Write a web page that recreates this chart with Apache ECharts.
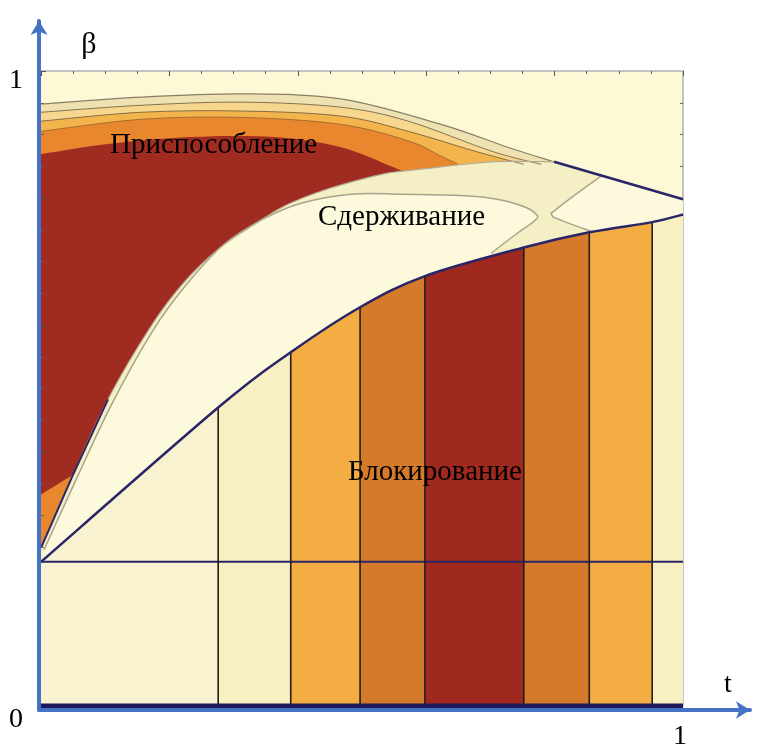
<!DOCTYPE html>
<html><head><meta charset="utf-8">
<script src="https://cdn.jsdelivr.net/npm/echarts@6/dist/echarts.min.js"></script>
<style>html,body{margin:0;padding:0;background:#fff}#c{width:759px;height:745px}</style>
</head><body><div id="c"></div>
<script>
// ===== data (t, β in [0,1]) =====
// «Блокирование» strips: edges along t, colours, and top boundary β at each edge
const stripEdges  = [0, 0.276, 0.389, 0.497, 0.598, 0.752, 0.854, 0.952, 1];
const stripColors = ['#f8f2d0','#f8f0c2','#f4ad42','#d47a2a','#a0291f','#d47a2a','#f4ad42','#f8f0c2'];
const blockTopB   = [0.227, 0.470, 0.557, 0.628, 0.677, 0.722, 0.746, 0.762, 0.774];
const baseLevelB  = 0.227;

// upper boundary of «Сдерживание»
const upperT = [0, 0.0498, 0.1044, 0.1713, 0.2227, 0.2757, 0.3271, 0.3785, 0.4315, 0.4829, 0.5343, 0.5607, 0.6231, 0.7009, 0.7991];
const upperB = [0.249, 0.364, 0.483, 0.598, 0.667, 0.719, 0.755, 0.787, 0.809, 0.825, 0.838, 0.842, 0.849, 0.857, 0.857];
const capT = [0.7991, 1];
const capB = [0.857, 0.798];

// inner blobs of «Сдерживание»
const blobLT = [0.7009, 0.7399, 0.7679, 0.7726, 0.7508, 0.7009, 0.6386, 0.5607, 0.4829, 0.4050, 0.3458, 0.2835, 0.2243, 0.1745, 0.1106, 0.0561, 0.0047];
const blobLB = [0.7129, 0.7429, 0.7634, 0.7729, 0.7871, 0.7997, 0.8044, 0.8060, 0.8060, 0.7918, 0.7666, 0.7256, 0.6609, 0.5915, 0.4763, 0.3596, 0.2461];
const blobRT = [0.7975, 0.8224, 0.8567];
const blobRB = [0.770, 0.760, 0.7476];
const blobRTopT = [0.7944, 0.8333, 0.8723];
const blobRTopB = [0.776, 0.806, 0.8344];

// «Приспособление» contour bands (outer to inner)
const c1T  = [0, 0.156, 0.312, 0.467, 0.623, 0.727, 0.799];
const c1B  = [0.948, 0.959, 0.964, 0.956, 0.916, 0.880, 0.857];
const c1bT = [0, 0.156, 0.312, 0.467, 0.572, 0.701, 0.779];
const c1bB = [0.935, 0.946, 0.951, 0.943, 0.921, 0.874, 0.853];
const c2T  = [0, 0.156, 0.312, 0.467, 0.572, 0.675, 0.752];
const c2B  = [0.921, 0.935, 0.937, 0.929, 0.905, 0.874, 0.853];
const c3T  = [0, 0.156, 0.312, 0.467, 0.572, 0.623, 0.650];
const c3B  = [0.905, 0.924, 0.927, 0.916, 0.890, 0.866, 0.853];
const c4T  = [0, 0.1044, 0.2336, 0.3629, 0.4673, 0.5452, 0.5717];
const c4B  = [0.869, 0.885, 0.896, 0.896, 0.880, 0.850, 0.838];
const redFootT = [0.0498, 0];
const redFootB = [0.364, 0.333];

// ===== helpers (pixel space) =====
function pts(api, T, B){ return T.map((t,i)=>api.coord([t, B[i]])); }
function crSegs(p){
  const s=[];
  for(let i=0;i<p.length-1;i++){
    const p0=p[i-1]||p[i], p1=p[i], p2=p[i+1], p3=p[i+2]||p[i+1];
    s.push([p1,[p1[0]+(p2[0]-p0[0])/6, p1[1]+(p2[1]-p0[1])/6],[p2[0]-(p3[0]-p1[0])/6, p2[1]-(p3[1]-p1[1])/6],p2]);
  }
  return s;
}
const f = a => a[0].toFixed(2)+','+a[1].toFixed(2);
function pathOf(edges, close){
  let d='';
  edges.forEach((e,k)=>{
    const p=e.p;
    d += (k===0?'M':' L')+f(p[0]);
    if(e.smooth){ crSegs(p).forEach(s=>{ d+=' C'+f(s[1])+' '+f(s[2])+' '+f(s[3]); }); }
    else { for(let i=1;i<p.length;i++) d+=' L'+f(p[i]); }
  });
  if(close) d+=' Z';
  return d;
}
function fillEl(d, color, z){ return {type:'path', z2:z, shape:{pathData:d}, style:{fill:color, stroke:null}}; }
function lineEl(d, color, w, z){ return {type:'path', z2:z, shape:{pathData:d}, style:{fill:null, stroke:color, lineWidth:w, lineJoin:'round'}}; }

function bandFill(api, T, B, color, z){
  const top = pts(api, T, B);
  const last = T[T.length-1];
  return fillEl(pathOf([{p:top, smooth:true},{p:[api.coord([last,0.3]), api.coord([0.05,0.3]), api.coord([0,0.22])]}], true), color, z);
}

function renderFills(params, api){
  const els=[];
  let z=0;
  els.push(bandFill(api, c1T, c1B, '#efe2b2', z++));
  els.push(bandFill(api, c1bT, c1bB, '#f7d68e', z++));
  els.push(bandFill(api, c2T, c2B, '#f4b44c', z++));
  els.push(bandFill(api, c3T, c3B, '#e8872e', z++));
  const rTop = pts(api, c4T, c4B);
  els.push(fillEl(pathOf([{p:rTop, smooth:true},{p:[api.coord([c4T[c4T.length-1],0.5])].concat(pts(api, redFootT, redFootB))}], true), '#a02b20', z++));
  const low = pts(api, stripEdges, blockTopB);
  const up = pts(api, upperT, upperB).reverse();
  const cap = pts(api, capT, capB).reverse();
  els.push(fillEl(pathOf([{p:low, smooth:true},{p:cap},{p:up, smooth:true}], true), '#f5efc6', z++));
  const bl = pts(api, blobLT, blobLB);
  els.push(fillEl(pathOf([{p:bl, smooth:true},{p:[api.coord([0,0.15]), api.coord([0.7009,0.15])]}], true), '#fcf9dd', z++));
  const brTop = pts(api, blobRTopT, blobRTopB);
  const brBot = pts(api, blobRT, blobRB).reverse();
  els.push(fillEl(pathOf([{p:brTop, smooth:true},{p:[api.coord([1,0.798]), api.coord([1,0.6]), api.coord([0.8567,0.6])]},{p:brBot, smooth:true}], true), '#fcf9dd', z++));
  // upper-region lines
  const band = 'rgba(95,80,55,0.75)';
  els.push(lineEl(pathOf([{p:pts(api,c1T,c1B),smooth:true}]), 'rgba(110,100,80,0.8)', 1.2, z++));
  els.push(lineEl(pathOf([{p:pts(api,c1bT,c1bB),smooth:true}]), band, 1, z++));
  els.push(lineEl(pathOf([{p:pts(api,c2T,c2B),smooth:true}]), band, 1, z++));
  els.push(lineEl(pathOf([{p:pts(api,c3T,c3B),smooth:true}]), 'rgba(95,70,40,0.5)', 1, z++));
  els.push(lineEl(pathOf([{p:pts(api,blobLT,blobLB),smooth:true}]), '#a9a38c', 1.5, z++));
  els.push(lineEl(pathOf([{p:pts(api,blobRTopT,blobRTopB).reverse(),smooth:true},{p:pts(api,blobRT,blobRB),smooth:true}]), '#a9a38c', 1.5, z++));
  els.push(lineEl(pathOf([{p:pts(api,upperT,upperB),smooth:true}]), '#b3ad95', 1.2, z++));
  els.push(lineEl(pathOf([{p:pts(api,upperT.slice(0,3),upperB.slice(0,3))}]), '#2a2566', 2, z++));
  els.push(lineEl(pathOf([{p:pts(api,capT,capB)}]), '#2a2566', 2.5, z++));
  return {type:'group', children:els};
}

function renderStrips(params, api){
  const els=[]; let z=0;
  const low = pts(api, stripEdges, blockTopB);
  const segs = crSegs(low);
  for(let i=0;i<stripColors.length;i++){
    const s = segs[i];
    const d = 'M'+f(api.coord([stripEdges[i],0]))+' L'+f(api.coord([stripEdges[i+1],0]))+' L'+f(s[3])+' C'+f(s[2])+' '+f(s[1])+' '+f(s[0])+' Z';
    els.push(fillEl(d, stripColors[i], z++));
  }
  els.push(lineEl(pathOf([{p:[api.coord([0,baseLevelB]), api.coord([1,baseLevelB])]}]), '#2a2566', 2, z++));
  for(let i=1;i<stripEdges.length-1;i++){
    els.push(lineEl('M'+f(api.coord([stripEdges[i],0]))+' L'+f(api.coord([stripEdges[i],blockTopB[i]])), '#241c14', 1.6, z++));
  }
  els.push(lineEl(pathOf([{p:low,smooth:true}]), '#2a2566', 2.5, z++));
  els.push(lineEl(pathOf([{p:[api.coord([0,0]), api.coord([1,0])]}]), '#1c1a5a', 5, z++));
  return {type:'group', children:els};
}

const serif = '"Liberation Serif","DejaVu Serif",serif';
function txt(text, x, y, size, align){
  return {type:'text', x:x, y:y, z:30, silent:true,
    style:{text:text, font:size+'px '+serif, fill:'#000', textAlign:align||'center', textVerticalAlign:'middle', align:align||'center', verticalAlign:'middle'}};
}

const chart = echarts.init(document.getElementById('c'));
const hidden = {axisLine:{show:false}, axisTick:{show:false}, axisLabel:{show:false}, splitLine:{show:false}};
const frameTick = {show:true, inside:true, length:5, lineStyle:{color:'#555', width:1}};
const frameMinor = {show:true, splitNumber:4, length:3, lineStyle:{color:'#666', width:1}};
const blue = '#4472c4';
chart.setOption({
  animation:false,
  grid:[
    {left:41, right:76, top:71, bottom:39, show:true, backgroundColor:'#fdf9d7', borderWidth:0},
    {left:39, right:9, top:21, bottom:35}
  ],
  xAxis:[
    Object.assign({gridIndex:0, type:'value', min:0, max:1}, hidden),
    {gridIndex:0, type:'value', min:0, max:1, interval:0.2, position:'top', z:10,
     axisLine:{show:true, onZero:false, lineStyle:{color:'#c4c4c4', width:2}},
     axisTick:frameTick, minorTick:frameMinor, axisLabel:{show:false}, splitLine:{show:false}},
    {gridIndex:1, type:'value', min:0, max:1, z:20,
     axisLine:{show:true, onZero:false, symbol:['none','arrow'], symbolSize:[13,14], lineStyle:{color:blue, width:4}},
     axisTick:{show:false}, axisLabel:{show:false}, splitLine:{show:false}}
  ],
  yAxis:[
    {gridIndex:0, type:'value', min:0, max:1, interval:0.2, position:'left', z:10,
     axisLine:{show:false}, axisTick:frameTick, minorTick:frameMinor, axisLabel:{show:false}, splitLine:{show:false}},
    {gridIndex:0, type:'value', min:0, max:1, interval:0.2, position:'right', z:1,
     axisLine:{show:true, onZero:false, lineStyle:{color:'#c4c4c4', width:2}},
     axisTick:frameTick, minorTick:frameMinor, axisLabel:{show:false}, splitLine:{show:false}},
    {gridIndex:1, type:'value', min:0, max:1, z:20,
     axisLine:{show:true, onZero:false, symbol:['none','arrow'], symbolSize:[13,14], lineStyle:{color:blue, width:4}},
     axisTick:{show:false}, axisLabel:{show:false}, splitLine:{show:false}}
  ],
  series:[
    {type:'custom', xAxisIndex:0, yAxisIndex:0, z:2, silent:true, data:[[0.5,0.5]], renderItem:renderFills},
    {type:'custom', xAxisIndex:0, yAxisIndex:0, z:12, silent:true, data:[[0.5,0.5]], renderItem:renderStrips}
  ],
  graphic:[
    txt('β', 89, 45, 30),
    txt('1', 16, 81, 28),
    txt('0', 16, 720, 28),
    txt('t', 728, 685, 28),
    txt('1', 680, 737, 28),
    txt('Приспособление', 110, 145, 29, 'left'),
    txt('Сдерживание', 318, 217, 29, 'left'),
    txt('Блокирование', 348, 472, 29, 'left')
  ]
});
</script>
</body></html>
